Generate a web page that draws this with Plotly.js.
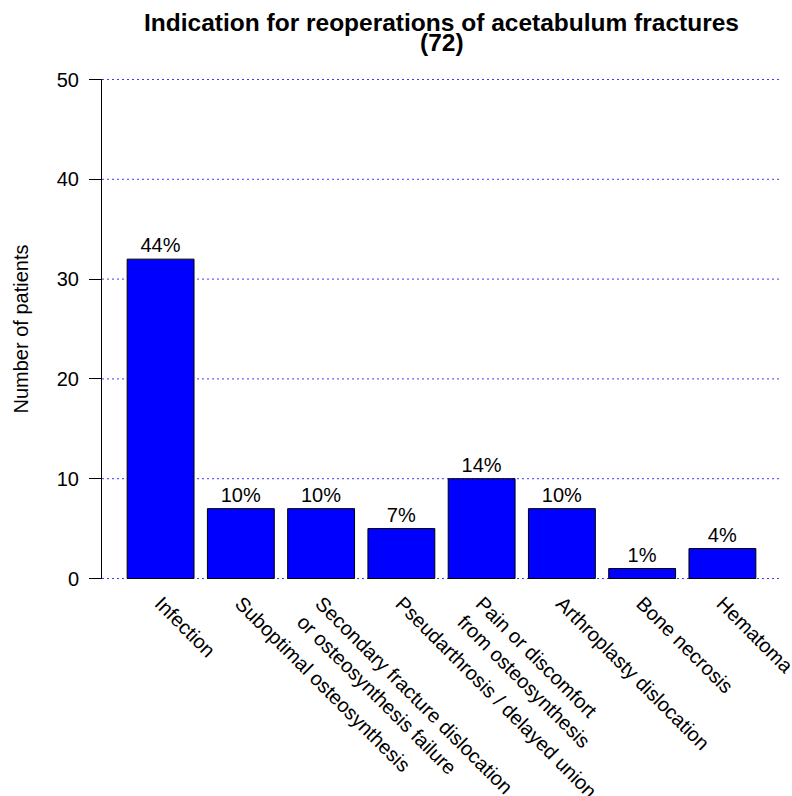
<!DOCTYPE html>
<html>
<head>
<meta charset="utf-8">
<script src="https://cdn.plot.ly/plotly-3.0.1.min.js"></script>
<style>html,body{margin:0;padding:0;background:#fff;}</style>
</head>
<body>
<div id="chart" style="width:792px;height:796px;"></div>
<script>
var categories = [
  "Infection",
  "Suboptimal osteosynthesis",
  "Secondary fracture dislocation<br>or osteosynthesis failure",
  "Pseudarthrosis / delayed union",
  "Pain or discomfort<br>from osteosynthesis",
  "Arthroplasty dislocation",
  "Bone necrosis",
  "Hematoma"
];
var patients = [32, 7, 7, 5, 10, 7, 1, 3];
var pctLabels = ["44%", "10%", "10%", "7%", "14%", "10%", "1%", "4%"];
var totalPatients = 72;
var yTicks = [0, 10, 20, 30, 40, 50];

var FONT = "Liberation Sans, Arial, Helvetica, sans-serif";

var trace = {
  type: "bar",
  x: categories,
  y: patients,
  width: 1 / 1.2,
  marker: { color: "#0000ff", line: { color: "#000000", width: 1 } },
  text: pctLabels,
  textposition: "outside",
  textfont: { family: FONT, size: 20, color: "#000000" },
  constraintext: "none",
  cliponaxis: false,
  hoverinfo: "x+y"
};

var gridShapes = yTicks.map(function (v) {
  return {
    type: "line", layer: "below",
    xref: "paper", x0: 0, x1: 1,
    yref: "y", y0: v, y1: v,
    line: { color: "#3c3cff", width: 1, dash: "2px,3px" }
  };
});

var layout = {
  width: 792,
  height: 796,
  autosize: false,
  margin: { l: 102, r: 11, t: 78.5, b: 216.5, pad: 0 },
  paper_bgcolor: "#ffffff",
  plot_bgcolor: "#ffffff",
  showlegend: false,
  font: { family: FONT, size: 20, color: "#000000" },
  title: {
    text: "<b>Indication for reoperations of acetabulum fractures</b>",
    font: { family: FONT, size: 24.5, color: "#000000" },
    x: 0.5, xref: "paper", xanchor: "center",
    y: 1 - 14 / 796, yref: "container", yanchor: "top"
  },
  annotations: [{
    text: "<b>(" + totalPatients + ")</b>",
    xref: "paper", yref: "paper",
    x: 0.5, xanchor: "center",
    y: 1 + 21 / 501, yanchor: "bottom",
    showarrow: false,
    font: { family: FONT, size: 24.5, color: "#000000" }
  }],
  shapes: gridShapes,
  xaxis: {
    type: "category",
    range: [-0.73, 7.73],
    tickangle: 45,
    ticks: "",
    showline: false,
    showgrid: false,
    zeroline: false,
    automargin: false,
    ticklabelstandoff: 8,
    tickfont: { family: FONT, size: 20, color: "#000000" }
  },
  yaxis: {
    range: [-0.05, 50.05],
    tickmode: "array",
    tickvals: yTicks,
    ticktext: yTicks.map(String),
    ticks: "outside",
    ticklen: 12,
    tickwidth: 1,
    tickcolor: "#000000",
    showline: true,
    linecolor: "#000000",
    linewidth: 1,
    showgrid: false,
    zeroline: false,
    automargin: false,
    ticklabelstandoff: 6,
    tickfont: { family: FONT, size: 20, color: "#000000" },
    title: { text: "Number of patients", font: { family: FONT, size: 20, color: "#000000" }, standoff: 22 }
  },
  bargap: 0
};

Plotly.newPlot("chart", [trace], layout, { displayModeBar: false, staticPlot: true });
</script>
</body>
</html>
